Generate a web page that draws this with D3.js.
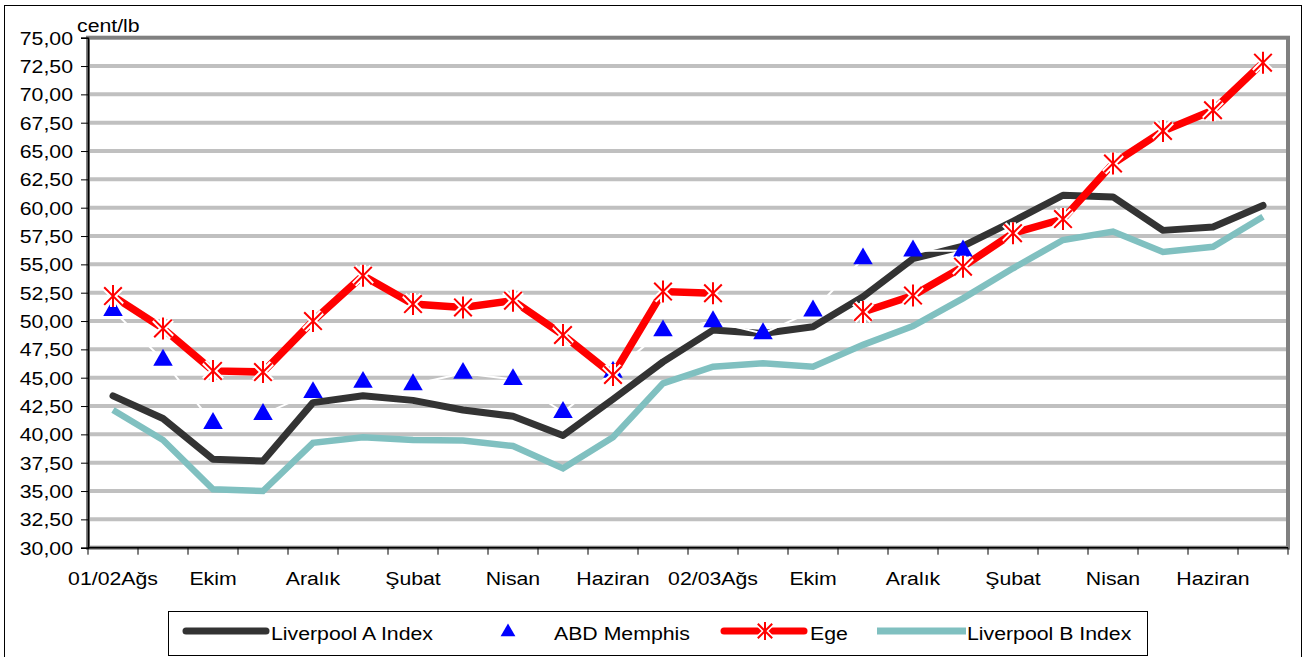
<!DOCTYPE html>
<html>
<head>
<meta charset="utf-8">
<script src="https://cdn.jsdelivr.net/npm/d3@7"></script>
<style>
  body { margin: 0; background: #fff; }
  text { font-family: "Liberation Sans", Arial, sans-serif; fill: #000; }
</style>
</head>
<body>
<svg id="chart" width="1307" height="657"></svg>
<script>

// months, Aug 2001 .. Jul 2003
var months = ["01/02Ağs", "Eylül", "Ekim", "Kasım", "Aralık", "Ocak", "Şubat", "Mart", "Nisan", "Mayıs", "Haziran", "Temmuz",
              "02/03Ağs", "Eylül ", "Ekim ", "Kasım ", "Aralık ", "Ocak ", "Şubat ", "Mart ", "Nisan ", "Mayıs ", "Haziran ", "Temmuz "];

var liverpoolA = [43.4, 41.4, 37.8, 37.65, 42.8, 43.4, 43.0, 42.15, 41.6, 39.9, 43.1, 46.4,
                  49.2, 48.9, 49.5, 52.15, 55.5, 56.6, 58.8, 61.1, 60.95, 58.0, 58.3, 60.2];
var memphis    = [50.95, 46.55, 40.97, 41.77, 43.7, 44.6, 44.4, 45.4, 44.85, 41.95, 45.5, 49.15,
                  49.95, 48.9, 50.9, 55.5, 56.2, 56.2, null, null, null, null, null, null];
var ege        = [52.2, 49.35, 45.6, 45.5, 50.0, 54.0, 51.5, 51.2, 51.8, 48.77, 45.24, 52.6,
                  52.45, null, null, 50.8, 52.25, 54.8, 57.75, 59.0, 63.9, 66.77, 68.6, 72.8];
var liverpoolB = [42.15, 39.5, 35.15, 35.0, 39.25, 39.75, 39.5, 39.45, 38.97, 37.0, 39.75, 44.5,
                  45.97, 46.27, 45.97, 47.9, 49.55, 52.0, 54.65, 57.15, 57.9, 56.1, 56.55, 59.2];

var yTicks = d3.range(30, 75.01, 2.5);
var seriesNames = ["Liverpool A Index", "ABD Memphis", "Ege", "Liverpool B Index"];

var SX = 1.12; // the original text is a bit wider than Arial
var svg = d3.select("#chart");
var pLeft = 88, pRight = 1288, pTop = 37.7, pBottom = 547.7;

var locale = d3.formatLocale({decimal: ",", thousands: ".", grouping: [3], currency: ["", ""]});
var fmt = locale.format(".2f");

var xScale = d3.scaleBand().domain(months).range([pLeft, pRight]).padding(0);
var yScale = d3.scaleLinear().domain([30, 75]).range([pBottom, pTop]);
var cx = function(i){ return xScale(months[i]) + xScale.bandwidth() / 2; };

function label(parent, x, y, str, anchor){
  return parent.append("g")
    .attr("transform", "translate(" + x + "," + y + ") scale(" + SX + ",1)")
    .append("text")
    .attr("text-anchor", anchor || "start")
    .attr("font-size", 19)
    .text(str);
}

// outer frame
svg.append("rect").attr("x", 4.5).attr("y", 5.5).attr("width", 1297).attr("height", 700)
  .attr("fill", "#fff").attr("stroke", "#000").attr("stroke-width", 1);

// plot area
svg.append("rect").attr("x", pLeft).attr("y", pTop).attr("width", pRight - pLeft).attr("height", pBottom - pTop)
  .attr("fill", "#fff").attr("stroke", "#808080").attr("stroke-width", 4);

// grid
svg.append("g").selectAll("line")
  .data(yTicks.filter(function(d){ return d > 30 && d < 75; }))
  .enter().append("line")
  .attr("x1", pLeft + 2).attr("x2", pRight - 2)
  .attr("y1", function(d){ return yScale(d); })
  .attr("y2", function(d){ return yScale(d); })
  .attr("stroke", "#c0c0c0").attr("stroke-width", 4);

// y axis
var yAxis = d3.axisLeft(yScale).tickValues(yTicks).tickSize(7).tickFormat("");
var gy = svg.append("g").attr("transform", "translate(" + pLeft + ",0)").call(yAxis);
gy.select(".domain").attr("stroke", "#000").attr("stroke-width", 1.5);
gy.selectAll(".tick line").attr("stroke", "#000");
yTicks.forEach(function(v){
  label(svg, 73, yScale(v) + 7, fmt(v), "end");
});
label(svg, 77, 32, "cent/lb", "start");

// x axis: ticks on category edges, labels every other month
svg.append("line").attr("x1", pLeft).attr("x2", pRight).attr("y1", pBottom).attr("y2", pBottom)
  .attr("stroke", "#000").attr("stroke-width", 1.5);
var edges = months.map(function(m){ return xScale(m); }).concat([pRight]);
svg.append("g").selectAll("line").data(edges).enter().append("line")
  .attr("x1", function(d){ return d; }).attr("x2", function(d){ return d; })
  .attr("y1", pBottom).attr("y2", pBottom + 7)
  .attr("stroke", "#000").attr("stroke-width", 1);
months.forEach(function(m, i){
  if (i % 2 === 0) label(svg, cx(i), 585, m.trim(), "middle");
});

// series
function lineFor(values){
  return d3.line()
    .defined(function(d){ return d != null; })
    .x(function(d, i){ return cx(i); })
    .y(function(d){ return yScale(d); })(values);
}

svg.append("path").attr("d", lineFor(liverpoolA)).attr("fill", "none")
  .attr("stroke", "#333333").attr("stroke-width", 7).attr("stroke-linejoin", "round").attr("stroke-linecap", "round");

svg.append("path").attr("d", lineFor(memphis)).attr("fill", "none")
  .attr("stroke", "#ffffff").attr("stroke-width", 2);

svg.append("path").attr("d", lineFor(ege)).attr("fill", "none")
  .attr("stroke", "#ff0000").attr("stroke-width", 7.5).attr("stroke-linejoin", "miter");

svg.append("path").attr("d", lineFor(liverpoolB)).attr("fill", "none")
  .attr("stroke", "#80c0c0").attr("stroke-width", 6.5).attr("stroke-linejoin", "miter");

var tri = d3.symbol().type(d3.symbolTriangle).size(165);
svg.append("g").selectAll("path")
  .data(memphis.map(function(v, i){ return {v: v, i: i}; }).filter(function(d){ return d.v != null; }))
  .enter().append("path")
  .attr("d", tri)
  .attr("transform", function(d){ return "translate(" + cx(d.i) + "," + yScale(d.v) + ")"; })
  .attr("fill", "#0000ff");

function starPath(r){
  var a = r * 0.8;
  return "M0," + (-r) + "V" + r + "M" + (-a) + "," + (-a) + "L" + a + "," + a + "M" + (-a) + "," + a + "L" + a + "," + (-a);
}
var egePts = ege.map(function(v, i){ return {v: v, i: i}; }).filter(function(d){ return d.v != null; });
var stars = svg.append("g").selectAll("g").data(egePts).enter().append("g")
  .attr("transform", function(d){ return "translate(" + cx(d.i) + "," + yScale(d.v) + ")"; });
stars.append("path").attr("d", starPath(11)).attr("stroke", "#fff").attr("stroke-width", 6).attr("fill", "none");
stars.append("path").attr("d", starPath(11)).attr("stroke", "#ff0000").attr("stroke-width", 2).attr("fill", "none");

// legend
var lg = svg.append("g");
lg.append("rect").attr("x", 168.5).attr("y", 611.5).attr("width", 979).attr("height", 44)
  .attr("fill", "#fff").attr("stroke", "#000").attr("stroke-width", 1);
var ly = 631;
lg.append("line").attr("x1", 186).attr("x2", 266).attr("y1", ly).attr("y2", ly)
  .attr("stroke", "#333333").attr("stroke-width", 7).attr("stroke-linecap", "round");
label(lg, 271, 640, seriesNames[0]);
lg.append("path").attr("d", d3.symbol().type(d3.symbolTriangle).size(95))
  .attr("transform", "translate(508," + (ly + 1) + ")").attr("fill", "#0000ff");
label(lg, 554, 640, seriesNames[1]);
lg.append("line").attr("x1", 724).attr("x2", 804).attr("y1", ly).attr("y2", ly)
  .attr("stroke", "#ff0000").attr("stroke-width", 7).attr("stroke-linecap", "round");
lg.append("path").attr("d", starPath(9)).attr("transform", "translate(765," + ly + ")")
  .attr("stroke", "#fff").attr("stroke-width", 5).attr("fill", "none");
lg.append("path").attr("d", starPath(9)).attr("transform", "translate(765," + ly + ")")
  .attr("stroke", "#ff0000").attr("stroke-width", 2).attr("fill", "none");
label(lg, 810, 640, seriesNames[2]);
lg.append("line").attr("x1", 877).attr("x2", 966).attr("y1", ly).attr("y2", ly)
  .attr("stroke", "#80c0c0").attr("stroke-width", 7);
label(lg, 967, 640, seriesNames[3]);

</script>
</body>
</html>
